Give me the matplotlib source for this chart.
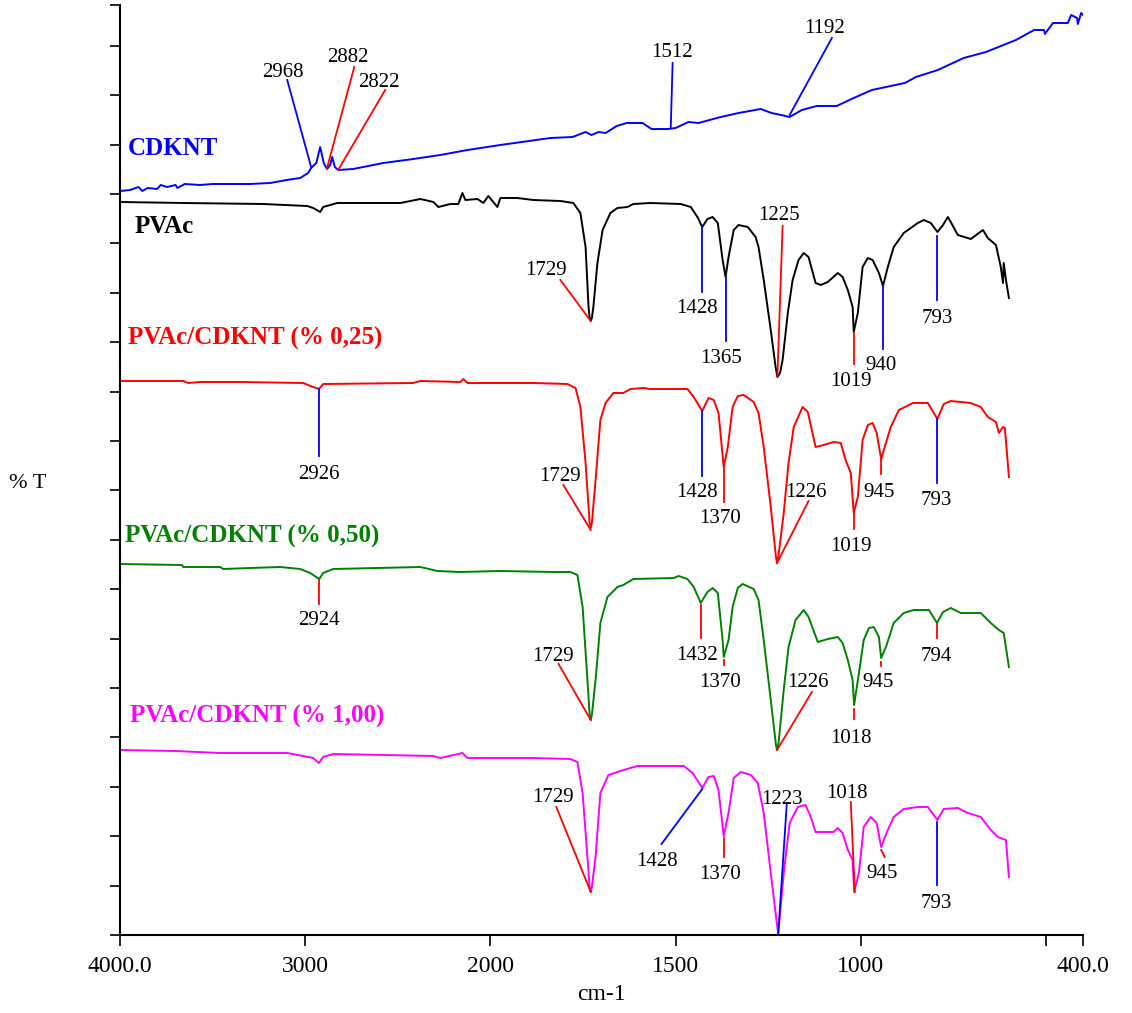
import matplotlib
matplotlib.use("Agg")
import matplotlib.pyplot as plt
import numpy as np

plt.rcParams['font.family'] = ['Liberation Serif', 'DejaVu Serif']

# spectra: wavenumber (cm-1) and offset %T (arbitrary units)
cdknt_wn = [4000, 3946, 3900, 3880, 3850, 3800, 3780, 3746, 3700, 3690, 3650, 3568, 3500, 3422,
            3300, 3189, 3100, 3027, 2984, 2968, 2940, 2919, 2900, 2882, 2865, 2854, 2840, 2822,
            2741, 2578, 2416, 2270, 2124, 1973, 1838, 1778, 1743, 1727, 1708, 1689, 1659, 1632,
            1589, 1565, 1519, 1500, 1465, 1438, 1378, 1330, 1270, 1241, 1215, 1192, 1159, 1119,
            1065, 1019, 970, 881, 851, 792, 722, 662, 581, 532, 505, 503, 481, 441, 432, 416,
            414, 405, 400]
cdknt_t = [744, 745, 748, 744, 747, 746, 750, 748, 750, 747, 751, 750, 751, 751,
           751, 752, 755, 757, 762, 767, 772, 788, 772, 766, 770, 778, 768, 765,
           766, 772, 776, 780, 785, 790, 797, 798, 803, 800, 803, 802, 809, 812,
           812, 806, 806, 807, 813, 812, 818, 822, 826, 822, 820, 818, 825, 829,
           829, 837, 845, 852, 858, 865, 877, 883, 895, 905, 905, 901, 912, 912, 920, 917,
           911, 922, 920]

pvac_wn = [4000, 3659, 3227, 2989, 2957, 2919, 2903, 2827, 2665, 2578, 2486, 2378, 2308, 2281,
           2216, 2173, 2151, 2135, 2070, 2038, 2011, 1981, 1973, 1927, 1884, 1811, 1776, 1757,
           1743, 1735, 1732, 1729, 1726, 1722, 1711, 1697, 1676, 1657, 1630, 1614, 1568, 1486, 1459, 1441,
           1428, 1414, 1400, 1386, 1373, 1365, 1357, 1343, 1330, 1305, 1284, 1276, 1262, 1243,
           1230, 1225, 1218, 1211, 1197, 1184, 1168, 1154, 1141, 1122, 1108, 1089, 1062, 1049, 1035,
           1022, 1019, 1008, 995, 981, 968, 951, 940, 927, 911, 884, 846, 830, 811, 793, 778,
           765, 757, 738, 703, 670, 657, 635, 622, 616, 614, 608, 600]
pvac_t = [733, 732, 731, 729, 727, 723, 728, 732, 732, 732, 732, 736, 733, 728,
          731, 731, 742, 735, 736, 732, 739, 728, 737, 737, 735, 734, 732, 722,
          688, 628, 617, 614, 617, 628, 672, 705, 722, 727, 728, 731, 732, 731, 728, 718,
          708, 716, 718, 712, 675, 658, 678, 705, 710, 708, 698, 688, 655, 605,
          568, 558, 562, 575, 622, 655, 675, 682, 678, 652, 650, 653, 662, 658, 645,
          628, 603, 622, 668, 677, 675, 662, 649, 668, 688, 702, 712, 715, 712, 703, 710,
          718, 713, 700, 696, 705, 697, 690, 668, 652, 672, 655, 637]

p025_wn = [4000, 3659, 3632, 3568, 3351, 3011, 2957, 2926, 2903, 2416, 2378, 2162, 2146, 2124,
           1884, 1792, 1770, 1757, 1743, 1732, 1729, 1726, 1716, 1703, 1689, 1668, 1641, 1622, 1586, 1568,
           1468, 1451, 1428, 1411, 1397, 1384, 1370, 1359, 1346, 1332, 1316, 1289, 1276, 1262,
           1243, 1229, 1226, 1222, 1208, 1195, 1181, 1157, 1143, 1122, 1100, 1073, 1054, 1041, 1027, 1019,
           1008, 995, 981, 968, 957, 945, 932, 919, 897, 859, 819, 793, 776, 757, 703, 676,
           657, 635, 627, 616, 611, 600]
p025_t = [554, 554, 552, 553, 553, 552, 548, 546, 551, 552, 554, 553, 556, 552,
          552, 551, 547, 528, 472, 412, 407, 412, 455, 515, 532, 542, 542, 546, 547, 546,
          546, 538, 524, 537, 535, 522, 468, 488, 528, 539, 540, 533, 522, 488,
          428, 378, 372, 380, 422, 472, 508, 528, 523, 488, 490, 493, 492, 475, 462, 422,
          438, 495, 510, 512, 502, 476, 492, 508, 525, 532, 532, 516, 531, 534, 532, 528,
          518, 513, 502, 508, 507, 458]

p050_wn = [4000, 3665, 3659, 3459, 3443, 3297, 3135, 3027, 2973, 2924, 2903, 2849, 2378, 2286,
           2162, 1973, 1830, 1784, 1765, 1751, 1738, 1732, 1729, 1726, 1716, 1703, 1684, 1657, 1641, 1614,
           1505, 1492, 1468, 1451, 1432, 1414, 1400, 1386, 1373, 1370, 1357, 1346, 1332, 1319,
           1289, 1276, 1262, 1243, 1229, 1226, 1222, 1208, 1195, 1176, 1154, 1141, 1116, 1089, 1062, 1049,
           1035, 1022, 1018, 1005, 992, 978, 965, 951, 945, 932, 911, 884, 857, 816, 794, 778,
           757, 730, 676, 649, 627, 614, 600]
p050_t = [371, 370, 368, 368, 366, 367, 368, 366, 362, 356, 362, 366, 368, 364,
          363, 364, 363, 363, 360, 328, 255, 220, 215, 220, 255, 312, 338, 348, 350, 356,
          357, 359, 356, 348, 332, 343, 347, 342, 295, 278, 295, 328, 347, 351,
          346, 335, 295, 235, 190, 185, 192, 245, 288, 315, 325, 318, 293, 296, 298, 292,
          275, 255, 230, 262, 295, 307, 308, 298, 277, 288, 312, 322, 325, 325, 312, 323,
          327, 322, 322, 312, 305, 302, 268]

p100_wn = [4000, 3703, 3459, 3351, 3097, 3011, 2957, 2926, 2903, 2849, 2578, 2308, 2270, 2151,
           2124, 1973, 1884, 1784, 1765, 1751, 1738, 1732, 1729, 1726, 1716, 1703, 1681, 1657, 1622, 1603,
           1478, 1454, 1428, 1411, 1397, 1384, 1370, 1357, 1343, 1324, 1297, 1278, 1262, 1243,
           1223, 1208, 1192, 1170, 1149, 1135, 1122, 1073, 1062, 1049, 1035, 1022, 1018, 1005,
           992, 973, 957, 945, 927, 911, 884, 846, 819, 793, 776, 738, 711, 676, 649, 630,
           616, 608, 600]
p100_t = [185, 184, 182, 182, 182, 179, 177, 172, 178, 181, 180, 179, 177, 182,
          177, 177, 177, 176, 173, 142, 78, 48, 43, 48, 78, 142, 160, 163, 167, 169,
          169, 162, 147, 158, 159, 145, 99, 122, 157, 163, 160, 152, 122, 62,
          1, 62, 112, 128, 130, 118, 103, 103, 107, 102, 85, 75, 43, 62,
          108, 118, 112, 88, 105, 118, 126, 128, 128, 115, 126, 127, 122, 118, 105, 98,
          96, 95, 58]

series_names = ["CDKNT", "PVAc", "PVAc/CDKNT (% 0,25)", "PVAc/CDKNT (% 0,50)", "PVAc/CDKNT (% 1,00)"]
series_colors = ["#0000ff", "#000000", "#ff0000", "#008000", "#ff00ff"]

xtick_vals = [4000, 3000, 2000, 1500, 1000, 500, 400]
xtick_labels = ["4000.0", "3000", "2000", "1500", "1000", "", "400.0"]

# peak labels: (text, leader colour, leader from, leader to, text position)
B, R = "#0000ff", "#ff0000"
peak_notes = [
    ("2968", B, (2968, 768), (3097, 855), (3119, 863)),
    ("2882", R, (2882, 767), (2735, 868), (2768, 878)),
    ("2822", R, (2822, 765), (2568, 845), (2600, 853)),
    ("1512", B, (1513, 807), (1508, 872), (1511, 883)),
    ("1192", B, (1192, 820), (1078, 897), (1097, 907)),

    ("1729", R, (1729, 614), (1811, 655), (1849, 665)),
    ("1428", B, (1428, 708), (1428, 643), (1441, 627)),
    ("1365", B, (1365, 658), (1365, 594), (1376, 577)),
    ("1225", R, (1225, 559), (1211, 709), (1222, 720)),
    ("1019", R, (1019, 602), (1019, 571), (1027, 554)),
    ("940", B, (940, 649), (940, 586), (946, 570)),
    ("793", B, (793, 699), (793, 635), (792, 617)),

    ("2926", B, (2926, 546), (2926, 479), (2926, 461)),
    ("1729", R, (1729, 405), (1803, 450), (1811, 459)),
    ("1428", B, (1428, 524), (1428, 459), (1441, 443)),
    ("1370", R, (1370, 468), (1370, 433), (1381, 417)),
    ("1226", R, (1226, 372), (1141, 434), (1149, 443)),
    ("1019", R, (1019, 422), (1019, 406), (1027, 389)),
    ("945", R, (945, 475), (945, 461), (951, 443)),
    ("793", B, (793, 516), (793, 452), (797, 435)),

    ("2924", R, (2924, 355), (2924, 331), (2924, 315)),
    ("1729", R, (1729, 215), (1816, 271), (1830, 279)),
    ("1432", R, (1432, 330), (1432, 297), (1443, 280)),
    ("1370", R, (1370, 275), (1370, 270), (1381, 253)),
    ("1226", R, (1226, 185), (1132, 243), (1143, 253)),
    ("945", R, (945, 273), (945, 269), (954, 253)),
    ("1018", R, (1018, 226), (1018, 216), (1027, 197)),
    ("794", R, (794, 311), (794, 297), (797, 279)),

    ("1729", R, (1729, 43), (1822, 128), (1832, 138)),
    ("1428", B, (1428, 146), (1538, 91), (1551, 74)),
    ("1370", R, (1370, 78), (1370, 97), (1381, 61)),
    ("1223", B, (1223, 0), (1200, 130), (1214, 136)),
    ("1018", R, (1016, 43), (1027, 133), (1038, 142)),
    ("945", R, (945, 85), (935, 78), (943, 62)),
    ("793", B, (793, 113), (793, 50), (797, 32)),
]

# series name positions (left edge, centre height)
name_pos = [(3957, 787), (3919, 709), (3957, 597), (3973, 399), (3946, 219)]


def fwd(x):
    x = np.asarray(x, dtype=float)
    return np.where(x > 2000, 2000 + (x - 2000) / 2.0, x)


def inv(t):
    t = np.asarray(t, dtype=float)
    return np.where(t > 2000, 2000 + (t - 2000) * 2.0, t)


fig = plt.figure(figsize=(11.32, 10.13), dpi=100)
ax = fig.add_axes([120 / 1132, 78 / 1013, 963 / 1132, 930 / 1013])
ax.set_xscale('function', functions=(fwd, inv))

curves = [(cdknt_wn, cdknt_t), (pvac_wn, pvac_t), (p025_wn, p025_t),
          (p050_wn, p050_t), (p100_wn, p100_t)]
for (wn, t), col in zip(curves, series_colors):
    ax.plot(wn, t, color=col, lw=1.4, solid_joinstyle='round')

for name, col, (x, y) in zip(series_names, series_colors, name_pos):
    ax.text(x, y, name, color=col, fontsize=18, fontweight='bold',
            ha='left', va='center')

for label, col, p0, p1, pt in peak_notes:
    ax.plot([p0[0], p1[0]], [p0[1], p1[1]], color=col, lw=1.3)
    ax.text(pt[0], pt[1], label, fontsize=15, ha='center', va='center')

ax.set_xlim(4000, 400)
ax.set_ylim(0, 930)
ax.set_xticks(xtick_vals)
ax.set_xticklabels(xtick_labels, fontsize=17)
ax.set_yticks(list(np.arange(0, 930, 49.4)) + [930])
ax.set_yticklabels([])
ax.tick_params(axis='x', direction='out', length=8, width=1.2, pad=7)
ax.tick_params(axis='y', direction='out', length=7, width=1.2)
ax.minorticks_off()
for s in ['top', 'right']:
    ax.spines[s].set_visible(False)
for s in ['left', 'bottom']:
    ax.spines[s].set_linewidth(1.5)

ax.set_xlabel("cm-1", fontsize=17, labelpad=5)
fig.text(28 / 1132, 1 - 483 / 1013, "% T", fontsize=16, ha='center', va='center')

fig.savefig("out.png", dpi=100)
